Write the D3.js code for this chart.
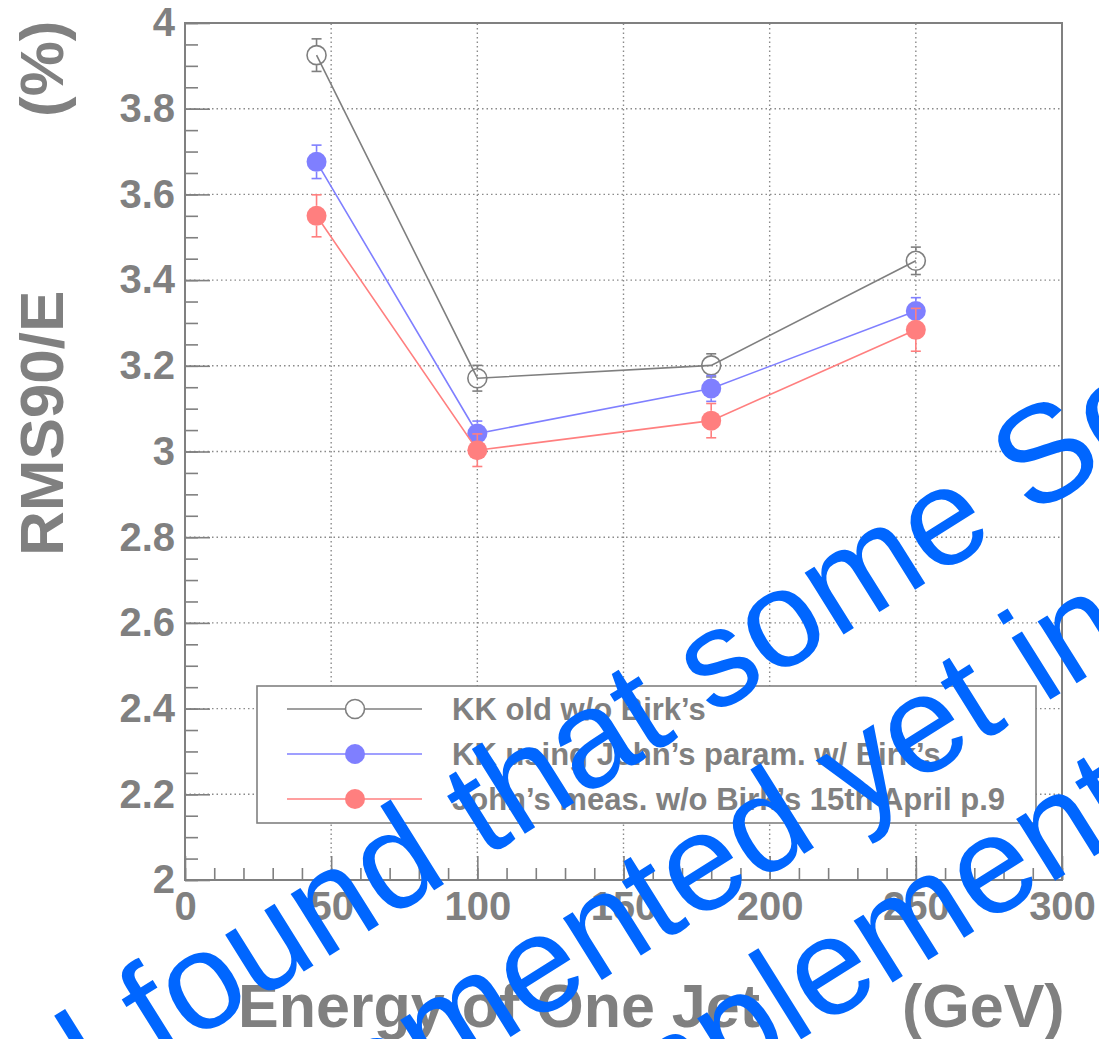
<!DOCTYPE html>
<html>
<head>
<meta charset="utf-8">
<script src="https://cdn.jsdelivr.net/npm/d3@7"></script>
<style>
  html, body { margin: 0; padding: 0; background: #fff; }
  svg { display: block; }
</style>
</head>
<body>
<svg id="chart" width="1099" height="1039"></svg>
<script>
// ---- data -------------------------------------------------------------
const energies = [45, 100, 180, 250];

const oldNoBirks        = [3.925, 3.171, 3.201, 3.445];
const oldNoBirksErr     = [0.038, 0.030, 0.027, 0.032];
const johnParamBirks    = [3.676, 3.042, 3.147, 3.328];
const johnParamBirksErr = [0.039, 0.029, 0.030, 0.031];
const johnMeasNoBirks   = [3.550, 3.003, 3.072, 3.284];
const johnMeasNoBirksErr= [0.049, 0.038, 0.040, 0.050];

const seriesLabels = [
  "KK old w/o Birk’s",
  "KK using John’s param. w/ Birk’s",
  "John’s meas. w/o Birk’s 15th April p.9"
];

const xTicks = [0, 50, 100, 150, 200, 250, 300];
const xTickLabels = ["0", "50", "100", "150", "200", "250", "300"];
const yTicks = [2, 2.2, 2.4, 2.6, 2.8, 3, 3.2, 3.4, 3.6, 3.8, 4];
const yTickLabels = ["2", "2.2", "2.4", "2.6", "2.8", "3", "3.2", "3.4", "3.6", "3.8", "4"];

const xTitle = "Energy of One Jet";
const xUnit = "(GeV)";
const yTitle = "RMS90/E";
const yUnit = "(%)";

const noteLines = [
  "I found that some Software",
  "implemented yet in",
  "implemented"
];

// ---- setup -------------------------------------------------------------
const svg = d3.select("#chart");
const FONT = "'Liberation Sans', Arial, Helvetica, sans-serif";
const GRAY = "#808080";

const x = d3.scaleLinear().domain([0, 300]).range([185, 1062]);
const y = d3.scaleLinear().domain([2, 4]).range([880, 23]);

const series = [
  { label: seriesLabels[0], values: oldNoBirks,      errors: oldNoBirksErr,      color: "#7f7f7f", open: true },
  { label: seriesLabels[1], values: johnParamBirks,  errors: johnParamBirksErr,  color: "#7f7fff", open: false },
  { label: seriesLabels[2], values: johnMeasNoBirks, errors: johnMeasNoBirksErr, color: "#ff7f7f", open: false }
];

// ---- grid --------------------------------------------------------------
const grid = svg.append("g");
grid.selectAll("line.gx")
  .data(xTicks.slice(1, -1))
  .join("line")
  .attr("x1", d => x(d)).attr("x2", d => x(d))
  .attr("y1", y.range()[0]).attr("y2", y.range()[1])
  .attr("stroke", "#8a8a8a").attr("stroke-width", 1.4)
  .attr("stroke-dasharray", "1.5,3");
grid.selectAll("line.gy")
  .data(yTicks.slice(1, -1))
  .join("line")
  .attr("x1", x.range()[0]).attr("x2", x.range()[1])
  .attr("y1", d => y(d)).attr("y2", d => y(d))
  .attr("stroke", "#8a8a8a").attr("stroke-width", 1.4)
  .attr("stroke-dasharray", "1.5,3");

// ---- axes --------------------------------------------------------------
function styleAxis(g) {
  g.select(".domain").remove();
  g.selectAll(".tick line").attr("stroke", GRAY).attr("stroke-width", 1.6);
  g.selectAll(".tick text")
    .attr("fill", GRAY)
    .attr("font-family", FONT)
    .attr("font-weight", "bold")
    .attr("font-size", 40);
}

const xMinor = d3.range(0, 31).map(i => i * 10);
svg.append("g")
  .attr("transform", `translate(0,${y(2)})`)
  .call(d3.axisBottom(x).tickValues(xMinor).tickSizeInner(-12).tickSizeOuter(0).tickFormat(""))
  .call(styleAxis);
svg.append("g")
  .attr("transform", `translate(0,${y(2)})`)
  .call(d3.axisBottom(x).tickValues(xTicks).tickSizeInner(-24).tickSizeOuter(0).tickPadding(12)
        .tickFormat((d, i) => xTickLabels[i]))
  .call(styleAxis);

const yMinor = d3.range(0, 41).map(i => 2 + i * 0.05);
svg.append("g")
  .attr("transform", `translate(${x(0)},0)`)
  .call(d3.axisLeft(y).tickValues(yMinor).tickSizeInner(-13).tickSizeOuter(0).tickFormat(""))
  .call(styleAxis);
svg.append("g")
  .attr("transform", `translate(${x(0)},0)`)
  .call(d3.axisLeft(y).tickValues(yTicks).tickSizeInner(-25).tickSizeOuter(0).tickPadding(10)
        .tickFormat((d, i) => yTickLabels[i]))
  .call(styleAxis);

// frame
svg.append("rect")
  .attr("x", x(0)).attr("y", y(4))
  .attr("width", x(300) - x(0)).attr("height", y(2) - y(4))
  .attr("fill", "none").attr("stroke", GRAY).attr("stroke-width", 2);

// ---- axis titles -------------------------------------------------------
const xt = svg.append("text")
  .attr("font-family", FONT).attr("font-weight", "bold").attr("font-size", 61)
  .attr("fill", GRAY).attr("y", 1027);
xt.append("tspan").attr("x", 238).text(xTitle);
xt.append("tspan").attr("x", 902).text(xUnit);

const yt = svg.append("text")
  .attr("transform", "rotate(-90)")
  .attr("font-family", FONT).attr("font-weight", "bold").attr("font-size", 62)
  .attr("fill", GRAY).attr("y", 63);
yt.append("tspan").attr("x", -556).text(yTitle);
yt.append("tspan").attr("x", -117).text(yUnit);

// ---- data series -------------------------------------------------------
const R = 10;
const line = d3.line().x(d => x(d[0])).y(d => y(d[1]));

series.forEach(s => {
  const pts = energies.map((e, i) => [e, s.values[i], s.errors[i]]);
  const g = svg.append("g");

  g.append("path")
    .attr("d", line(pts))
    .attr("fill", "none").attr("stroke", s.color).attr("stroke-width", 1.6);

  // error bars, drawn outside the marker
  pts.forEach(p => {
    const cx = x(p[0]);
    const yTop = y(p[1] + p[2]);
    const yBot = y(p[1] - p[2]);
    const yc = y(p[1]);
    if (yc - R > yTop) {
      g.append("line").attr("x1", cx).attr("x2", cx).attr("y1", yTop).attr("y2", yc - R)
        .attr("stroke", s.color).attr("stroke-width", 1.6);
    }
    if (yBot > yc + R) {
      g.append("line").attr("x1", cx).attr("x2", cx).attr("y1", yc + R).attr("y2", yBot)
        .attr("stroke", s.color).attr("stroke-width", 1.6);
    }
    [yTop, yBot].forEach(yy => {
      g.append("line").attr("x1", cx - 5).attr("x2", cx + 5).attr("y1", yy).attr("y2", yy)
        .attr("stroke", s.color).attr("stroke-width", 1.6);
    });
  });

  g.selectAll("circle")
    .data(pts)
    .join("circle")
    .attr("cx", d => x(d[0])).attr("cy", d => y(d[1]))
    .attr("r", s.open ? R - 0.5 : R)
    .attr("fill", s.open ? "none" : s.color)
    .attr("stroke", s.open ? s.color : "none")
    .attr("stroke-width", 1.6);
});

// ---- legend ------------------------------------------------------------
const lg = svg.append("g");
lg.append("rect")
  .attr("x", 257).attr("y", 686).attr("width", 779).attr("height", 137)
  .attr("fill", "#fff").attr("stroke", GRAY).attr("stroke-width", 1.6);
series.forEach((s, i) => {
  const cy = 709 + i * 45;
  lg.append("line").attr("x1", 287).attr("x2", 422).attr("y1", cy).attr("y2", cy)
    .attr("stroke", s.color).attr("stroke-width", 1.6);
  lg.append("circle").attr("cx", 355).attr("cy", cy)
    .attr("r", s.open ? R - 0.5 : R)
    .attr("fill", s.open ? "#fff" : s.color)
    .attr("stroke", s.open ? s.color : "none")
    .attr("stroke-width", 1.6);
  lg.append("text")
    .attr("x", 452).attr("y", cy + 11)
    .attr("font-family", FONT).attr("font-weight", "bold").attr("font-size", 31)
    .attr("fill", GRAY)
    .text(s.label);
});

// ---- note written across the plot --------------------------------------
const note = svg.append("g").attr("transform", "rotate(-32)");
const noteX = [-505, -540, -103];
const noteY = [985, 1150, 1306];
noteLines.forEach((t, i) => {
  note.append("text")
    .attr("x", noteX[i]).attr("y", noteY[i])
    .attr("font-family", FONT).attr("font-size", 138)
    .attr("fill", "#0066ff")
    .text(t);
});
</script>
</body>
</html>
